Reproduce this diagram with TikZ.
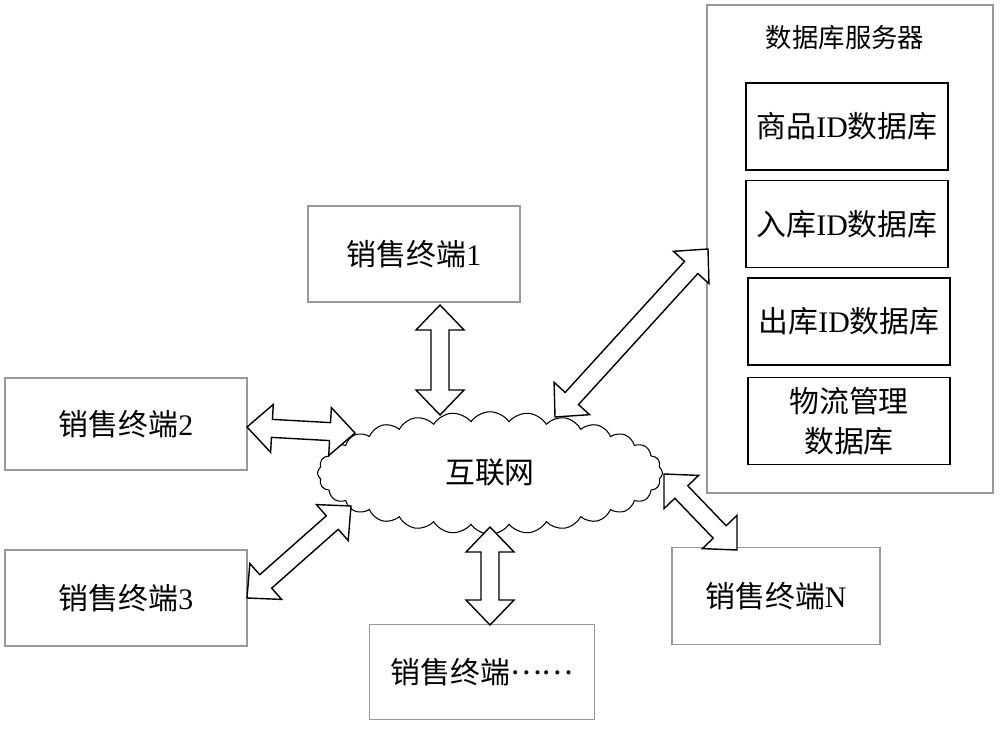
\documentclass[tikz,border=0pt]{standalone}
\usepackage{fontspec}
\setmainfont{Liberation Serif}
\newfontfamily\cjk{Noto Sans CJK SC}
\usetikzlibrary{calc,shapes.symbols}

\tikzset{
  term/.style={draw=gray!80,line width=0.8pt,inner sep=0pt,font=\fontsize{17}{20}\selectfont},
  dbbox/.style={draw=black,line width=1.1pt,inner sep=0pt,minimum width=4.04cm,minimum height=1.74cm,align=center,font=\fontsize{17}{23}\selectfont},
  blockarrow/.style={draw=black,fill=white,line width=0.8pt,line join=miter}
}

% hollow double arrow between two points
\newcommand{\dblarrow}[2]{%
  \coordinate (ha) at ($(#1)!0.5cm!(#2)$);
  \coordinate (hb) at ($(#2)!0.5cm!(#1)$);
  \draw[blockarrow] (#1) -- ($(ha)!0.48cm!90:(#2)$) -- ($(ha)!0.18cm!90:(#2)$)
    -- ($(hb)!0.18cm!-90:(#1)$) -- ($(hb)!0.48cm!-90:(#1)$) -- (#2)
    -- ($(hb)!0.48cm!90:(#1)$) -- ($(hb)!0.18cm!90:(#1)$)
    -- ($(ha)!0.18cm!-90:(#2)$) -- ($(ha)!0.48cm!-90:(#2)$) -- cycle;}

\begin{document}
\begin{tikzpicture}[x=0.02cm,y=-0.02cm]
  \useasboundingbox (0,0) rectangle (1000,729);
  % terminals
  \node[term,minimum width=4.24cm,minimum height=1.92cm] (t1) at (414,254) {{\cjk 销售终端}1};
  \node[term,minimum width=4.84cm,minimum height=1.84cm] (t2) at (126,424) {{\cjk 销售终端}2};
  \node[term,minimum width=4.84cm,minimum height=1.92cm] (t3) at (126,598) {{\cjk 销售终端}3};
  \node[term,minimum width=4.5cm,minimum height=1.9cm] (tdots) at (482,672) {{\cjk 销售终端\raisebox{0.3em}{……}}};
  \node[term,minimum width=4.16cm,minimum height=1.94cm] (tn) at (776,596) {{\cjk 销售终端}N};
  % database server
  \node[term,minimum width=5.72cm,minimum height=9.76cm] (srv) at (850,249) {};
  \node[font=\fontsize{15}{18}\selectfont\cjk] (srvtitle) at (845,38) {数据库服务器};
  \node[dbbox] (db1) at (847,126.5) {{\cjk 商品}ID{\cjk 数据库}};
  \node[dbbox] (db2) at (847,224) {{\cjk 入库}ID{\cjk 数据库}};
  \node[dbbox] (db3) at (849,321.5) {{\cjk 出库}ID{\cjk 数据库}};
  \node[dbbox,font=\fontsize{17}{23}\selectfont\cjk] (db4) at (849,421) {物流管理\\数据库};
  % internet
  \node[cloud,draw,line width=0.6pt,cloud puffs=28,cloud puff arc=110,aspect=3,
        minimum width=6.9cm,minimum height=2.45cm,font=\fontsize{17}{20}\selectfont\cjk] (net) at (490,473) {互联网};
  % arrow ends
  \coordinate (a1) at (440,305);  \coordinate (b1) at (440,415);
  \coordinate (a2) at (247,427);  \coordinate (b2) at (355,433);
  \coordinate (a3) at (247,598);  \coordinate (b3) at (351,506);
  \coordinate (a4) at (490,527);  \coordinate (b4) at (490,625);
  \coordinate (a5) at (555,417);  \coordinate (b5) at (708,249);
  \coordinate (a6) at (664,474);  \coordinate (b6) at (737,550);
  \dblarrow{a1}{b1}
  \dblarrow{a2}{b2}
  \dblarrow{a3}{b3}
  \dblarrow{a4}{b4}
  \dblarrow{a5}{b5}
  \dblarrow{a6}{b6}
\end{tikzpicture}
\end{document}
